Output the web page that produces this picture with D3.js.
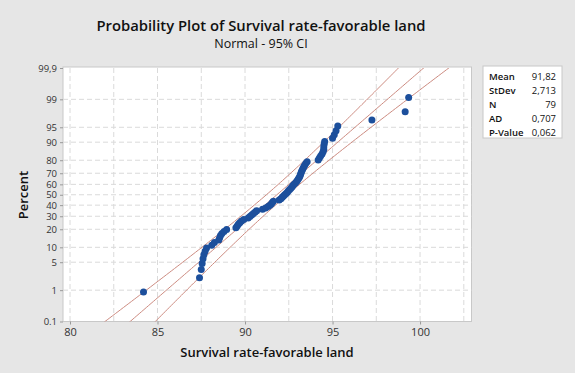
<!DOCTYPE html>
<html><head><meta charset="utf-8">
<script src="https://cdn.jsdelivr.net/npm/d3@7"></script>
<style>
html,body{margin:0;padding:0;background:#e6e6e6;}
svg{display:block;font-family:"Open Sans","Noto Sans",sans-serif;}
</style></head>
<body>
<svg id="c" width="575" height="373"></svg>
<script>
// ---- data ----
const title = "Probability Plot of Survival rate-favorable land";
const subtitle = "Normal - 95% CI";
const xTitle = "Survival rate-favorable land";
const yTitle = "Percent";
const survival = [84.2,87.4,87.5,87.55,87.6,87.65,87.72,87.8,88.1,88.25,
  88.5,88.55,88.6,88.68,88.8,88.95,89.48,89.55,89.62,89.7,
  89.8,89.93,90.18,90.28,90.38,90.48,90.58,90.67,91.0,91.18,
  91.32,91.42,91.5,91.56,91.62,91.95,92.05,92.13,92.2,92.27,
  92.35,92.42,92.48,92.55,92.62,92.68,92.74,92.8,92.88,92.95,
  93.0,93.05,93.1,93.14,93.17,93.2,93.23,93.27,93.31,93.36,
  93.41,93.47,93.55,94.18,94.25,94.32,94.4,94.46,94.5,94.5,
  94.52,94.55,95.0,95.1,95.2,95.3,97.25,99.15,99.35];
const xTicks = [80,85,90,95,100];
const xGrid = [80,82.5,85,87.5,90,92.5,95,97.5,100,102.5];
const percentTicks = [0.1,1,5,10,20,30,40,50,60,70,80,90,95,99,99.9];
const percentLabels = ["0.1","1","5","10","20","30","40","50","60","70","80","90","95","99","99,9"];
const statLabels = ["Mean","StDev","N","AD","P-Value"];
const statValues = ["91,82","2,713","79","0,707","0,062"];
const mean = 91.82, stdev = 2.713, nObs = 79;

// inverse standard normal (Acklam)
function qnorm(p){
  const a=[-3.969683028665376e+01,2.209460984245205e+02,-2.759285104469687e+02,1.383577518672690e+02,-3.066479806614716e+01,2.506628277459239e+00];
  const b=[-5.447609879822406e+01,1.615858368580409e+02,-1.556989798598866e+02,6.680131188771972e+01,-1.328068155288572e+01];
  const c=[-7.784894002430293e-03,-3.223964580411365e-01,-2.400758277161838e+00,-2.549671010115819e+00,4.374664141464968e+00,2.938163982698783e+00];
  const d=[7.784695709041462e-03,3.224671290700398e-01,2.445134137142996e+00,3.754408661907416e+00];
  const pl=0.02425, ph=1-pl; let q,r;
  if(p<pl){q=Math.sqrt(-2*Math.log(p));return (((((c[0]*q+c[1])*q+c[2])*q+c[3])*q+c[4])*q+c[5])/((((d[0]*q+d[1])*q+d[2])*q+d[3])*q+1);}
  if(p>ph){q=Math.sqrt(-2*Math.log(1-p));return -(((((c[0]*q+c[1])*q+c[2])*q+c[3])*q+c[4])*q+c[5])/((((d[0]*q+d[1])*q+d[2])*q+d[3])*q+1);}
  q=p-0.5;r=q*q;return (((((a[0]*r+a[1])*r+a[2])*r+a[3])*r+a[4])*r+a[5])*q/(((((b[0]*r+b[1])*r+b[2])*r+b[3])*r+b[4])*r+1);
}

const svg = d3.select("#c");
const L=63, R=471.5, T=68, B=321.5;
const x = d3.scaleLinear().domain([79.6, 102.94]).range([L, R]);
const y = d3.scaleLinear().domain([qnorm(0.001), qnorm(0.999)]).range([B, T]);
const yp = p => y(qnorm(p/100));

// titles
svg.append("text").attr("x",261).attr("y",31).attr("text-anchor","middle")
  .attr("font-size",14.8).attr("font-weight",600).attr("fill","#111").text(title);
svg.append("text").attr("x",261).attr("y",48).attr("text-anchor","middle")
  .attr("font-size",12.5).attr("font-weight",500).attr("fill","#111").text(subtitle);

// plot area
svg.append("rect").attr("x",L).attr("y",T-1).attr("width",R-L).attr("height",B-T+1)
  .attr("fill","#fff").attr("stroke","#c8c8c8");

// grid
const g = svg.append("g");
g.selectAll(".vg").data(xGrid).join("line")
  .attr("x1",d=>x(d)).attr("x2",d=>x(d)).attr("y1",T).attr("y2",B)
  .attr("stroke","#dadada").attr("stroke-dasharray","5,3");
g.selectAll(".hg").data(percentTicks.slice(1,-1)).join("line")
  .attr("x1",L).attr("x2",R).attr("y1",d=>yp(d)).attr("y2",d=>yp(d))
  .attr("stroke","#dadada").attr("stroke-dasharray","5,3");

// axes
const xAxis = d3.axisBottom(x).tickValues(xTicks).tickSize(3).tickPadding(4).tickFormat(d3.format("d"));
const ax = svg.append("g").attr("transform",`translate(0,${B})`).call(xAxis);
ax.select(".domain").remove();
ax.selectAll("line").attr("stroke","#999");
ax.selectAll("text").attr("font-size",11).attr("fill","#333").attr("font-family","Open Sans");

const yAxis = d3.axisLeft(y).tickValues(percentTicks.map(p=>qnorm(p/100))).tickSize(3).tickPadding(3)
  .tickFormat((d,i)=>percentLabels[i]);
const ay = svg.append("g").attr("transform",`translate(${L},0)`).call(yAxis);
ay.select(".domain").remove();
ay.selectAll("line").attr("stroke","#999");
ay.selectAll("text").attr("font-size",9.5).attr("fill","#333").attr("font-family","Open Sans");

svg.append("text").attr("x",267).attr("y",357).attr("text-anchor","middle")
  .attr("font-size",13).attr("font-weight",600).attr("fill","#111").text(xTitle);
svg.append("text").attr("transform","translate(28,195) rotate(-90)").attr("text-anchor","middle")
  .attr("font-size",13).attr("font-weight",600).attr("fill","#111").text(yTitle);

// fitted line and CI
svg.append("clipPath").attr("id","clip").append("rect").attr("x",L).attr("y",T).attr("width",R-L).attr("height",B-T);
const zs = d3.range(-4, 4.001, 0.05);
const lineFn = d3.line().x(d=>x(d[0])).y(d=>y(d[1]));
const half = z => 1.96*stdev*Math.sqrt(1/nObs + z*z/(2*nObs));
const lines = [
  zs.map(z=>[mean+stdev*z, z]),
  zs.map(z=>[mean+stdev*z-half(z), z]),
  zs.map(z=>[mean+stdev*z+half(z), z])
];
svg.append("g").attr("clip-path","url(#clip)").selectAll("path").data(lines).join("path")
  .attr("d",lineFn).attr("fill","none").attr("stroke","#cc8b80").attr("stroke-width",1);

// points
const n = survival.length;
const sorted = survival.slice().sort((a,b)=>a-b);
svg.append("g").selectAll("circle").data(sorted).join("circle")
  .attr("cx",d=>x(d)).attr("cy",(d,i)=>y(qnorm((i+1-0.3)/(n+0.4)))).attr("r",3.5)
  .attr("fill","#1c4f9c");

// stats box
const bx=483, by=66;
svg.append("rect").attr("x",bx).attr("y",by).attr("width",79).attr("height",72)
  .attr("fill","#fff").attr("stroke","#c8c8c8");
statLabels.forEach((s,i)=>{
  svg.append("text").attr("x",bx+6).attr("y",by+13.5+i*14).attr("font-size",9.5).attr("font-weight",600)
    .attr("fill","#111").text(s);
  svg.append("text").attr("x",bx+73).attr("y",by+13.5+i*14).attr("font-size",9.5).attr("text-anchor","end")
    .attr("fill","#111").text(statValues[i]);
});
</script>
</body></html>
